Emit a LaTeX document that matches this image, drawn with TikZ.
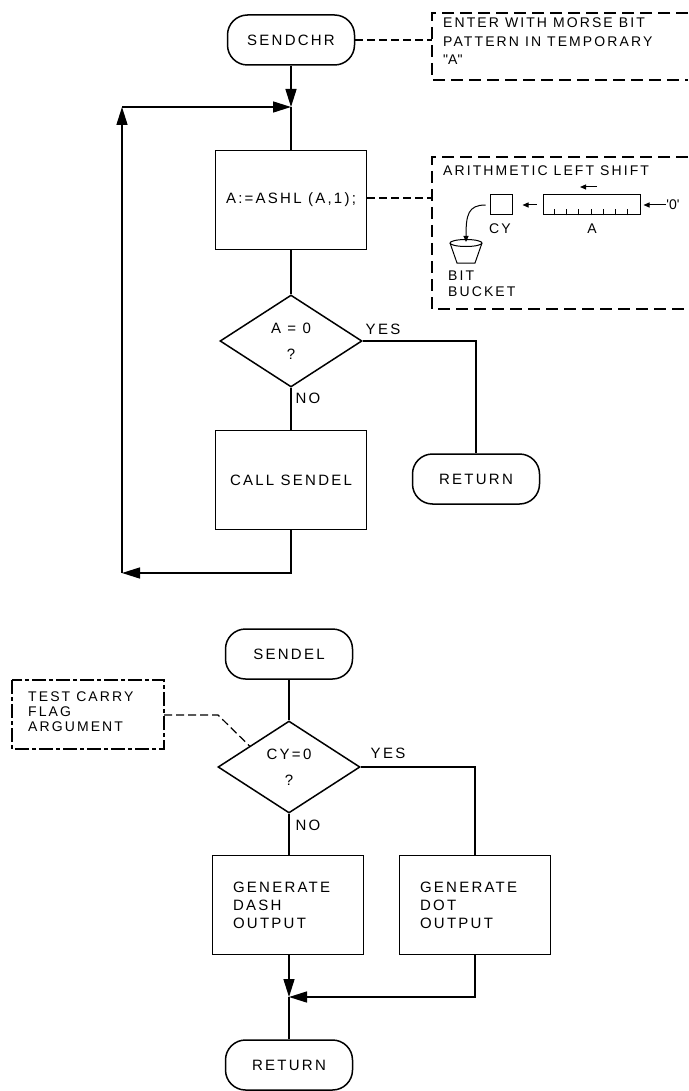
\documentclass[tikz,border=0pt]{standalone}
\usepackage{fontspec}
\setmainfont{Liberation Sans}[LetterSpace=15]
\usetikzlibrary{arrows.meta,shapes.geometric,calc}
\newcommand{\mainsize}{\fontsize{15}{18}\selectfont}
\newcommand{\notesize}{\fontsize{14}{18.5}\selectfont}
\tikzset{
  flow/.style={line width=1.5pt},
  terminal/.style={draw, flow, rounded corners=20pt, minimum width=127pt, minimum height=50pt, inner sep=0pt, font=\mainsize},
  procbox/.style={draw, flow, minimum width=151pt, minimum height=99pt, inner sep=0pt, align=center, font=\mainsize},
  decision/.style={draw, flow, diamond, minimum width=142pt, minimum height=92pt, inner sep=0pt, align=center, font=\mainsize},
  line/.style={flow},
  arr/.style={flow, -{Triangle[length=18pt,width=11pt]}},
  lbl/.style={inner sep=0pt, font=\mainsize},
  comment/.style={line width=1.2pt, dash pattern=on 8pt off 4pt},
  notebox/.style={line width=1.2pt, dash pattern=on 12pt off 6pt},
  dotnote/.style={line width=1.2pt, dash pattern=on 14pt off 3pt on 4pt off 3pt},
  notetext/.style={anchor=north west, align=left, inner sep=0pt, font=\notesize},
  sketch/.style={line width=1pt},
  tinyarr/.style={sketch, -{Triangle[length=6pt,width=5pt]}},
}
\begin{document}
\begin{tikzpicture}[x=1pt,y=-1pt]
  \path[use as bounding box] (0,0) rectangle (688,1091);
  % SENDCHR routine
  \node[terminal] (sendchr) at (291,40) {SENDCHR};
  \node[procbox] (shift) at (291,200) {A:=ASHL (A,1);};
  \node[decision] (azero) at (291,341) {A = 0\\[8pt]?};
  \node[procbox] (callsd) at (291,480) {CALL SENDEL};
  \node[terminal] (ret1) at (476,479) {RETURN};
  \coordinate (j1) at (291,107);
  \coordinate (loopbot) at (122,573);
  \coordinate (looptop) at (122,107);
  \draw[arr] (sendchr) -- (j1);
  \draw[line] (j1) -- (shift);
  \draw[line] (shift) -- (azero);
  \draw[line] (azero) -- (callsd);
  \draw[line] (azero.east) -| (ret1.north);
  \draw[arr] (callsd.south) |- (loopbot);
  \draw[arr] (loopbot) -- (looptop);
  \draw[arr] (looptop) -- (j1);
  \node[lbl] (yes1) at (383,329) {YES};
  \node[lbl] (no1) at (308,398) {NO};

  % note: entry
  \draw[notebox] (688,13) -| (432,80) -- (688,80);
  \coordinate (n1) at (432,40);
  \draw[comment] (sendchr.east) -- (n1);
  \node[notetext] (entry) at (443,18) {ENTER WITH MORSE BIT\\PATTERN IN TEMPORARY\\\textquotedbl A\textquotedbl};

  % note: arithmetic left shift
  \draw[notebox] (688,157) -| (432,309) -- (688,309);
  \coordinate (n2) at (432,198);
  \draw[comment] (shift.east |- n2) -- (n2);
  \node[notetext] (ashl) at (443,166) {ARITHMETIC LEFT SHIFT};
  \node[draw, sketch, minimum width=22pt, minimum height=20pt, inner sep=0pt] (cy) at (501,205) {};
  \node[draw, sketch, minimum width=97pt, minimum height=20pt, inner sep=0pt] (areg) at (591.5,205) {};
  \foreach \k in {1,...,7}
    \draw[sketch] ($(areg.south west)+(\k*12.125,0)$) -- ++(0,-6);
  \node[lbl, font=\notesize] (cylbl) at (500,229) {CY};
  \node[lbl, font=\notesize] (alb) at (592,229) {A};
  \node[lbl, font=\notesize] (zin) at (673,205) {\textquotesingle 0\textquotesingle};
  \draw[tinyarr, shorten >=3pt] (zin.west) -- (areg.east);
  \draw[tinyarr, shorten <=6pt, shorten >=10pt] (areg.west) -- (cy.east);
  \draw[tinyarr] (597,187) -- (580,187);
  \draw[sketch] (450,243) -- (457,263) -- (475,263) -- (482,243);
  \draw[sketch] (466,243) ellipse [x radius=16, y radius=3.5];
  \coordinate (bucket) at (466,242);
  \draw[tinyarr] ($(cy.west)+(-4,0)$) .. controls (468,205) and (466,215) .. (bucket);
  \node[notetext, font=\fontsize{14}{16}\selectfont] (bitbk) at (448,271) {BIT\\BUCKET};

  % SENDEL routine
  \node[terminal] (sendel) at (289,654) {SENDEL};
  \node[decision] (cyzero) at (289,767) {CY=0\\[8pt]?};
  \node[procbox, text width=110pt, align=left] (dash) at (288,905) {GENERATE\\DASH\\OUTPUT};
  \node[procbox, text width=110pt, align=left] (dot) at (475,905) {GENERATE\\DOT\\OUTPUT};
  \node[terminal] (ret2) at (289,1065) {RETURN};
  \coordinate (j2) at (289,997);
  \draw[line] (sendel) -- (cyzero);
  \draw[line] (cyzero) -- (cyzero.south |- dash.north);
  \draw[line] (cyzero.east) -| (dot.north);
  \draw[arr] (cyzero.south |- dash.south) -- (j2);
  \draw[arr] (dot.south) |- (j2);
  \draw[line] (j2) -- (ret2);
  \node[lbl] (yes2) at (388,753) {YES};
  \node[lbl] (no2) at (308,825) {NO};

  % note: carry flag
  \node[notetext, font=\fontsize{14}{15}\selectfont] (carry) at (28,692) {TEST CARRY\\FLAG\\ARGUMENT};
  \draw[dotnote] (12,680) rectangle (164,749);
  \coordinate (n3) at (164,715);
  \coordinate (n3bend) at (218,715);
  \draw[comment] (n3) -- (n3bend) -- ($(cyzero.north)!0.55!(cyzero.west)$);
\end{tikzpicture}
\end{document}
